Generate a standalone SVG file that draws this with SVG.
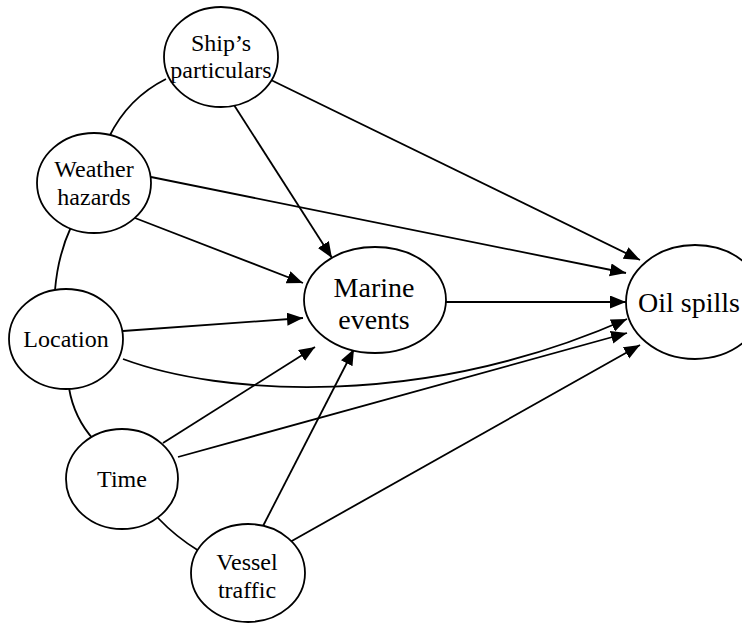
<svg xmlns="http://www.w3.org/2000/svg" width="742" height="623" viewBox="0 0 742 623">
  <style>
    .node { fill: #ffffff; stroke: #000000; stroke-width: 1.8; }
    .edge { fill: none; stroke: #000000; stroke-width: 1.8; }
    .arrow { marker-end: url(#head); }
    text { font-family: 'Liberation Serif', 'Tinos', 'DejaVu Serif', serif; font-size: 24px; fill: #000000; text-anchor: middle; }
    text.big { font-size: 28px; }
  </style>
  <defs>
    <marker id="head" markerUnits="userSpaceOnUse" markerWidth="17" markerHeight="14" refX="16" refY="6.5" orient="auto">
      <path d="M0,0 L16,6.5 L0,13 Z" fill="#000000"/>
    </marker>
  </defs>
  <rect width="742" height="623" fill="#ffffff"/>

  <g id="connectors">
    <!-- undirected links between the outer factors -->
    <path class="edge" d="M166,79 Q128,98 109,137"/>
    <path class="edge" d="M71,227 Q58,255 55,290"/>
    <path class="edge" d="M69,388 Q74,418 94,440"/>
    <path class="edge" d="M158,518 Q176,537 199,551"/>
    <!-- influences on marine events -->
    <path class="edge arrow" d="M234,105 L332,258"/>
    <path class="edge arrow" d="M135,218 L303,283"/>
    <path class="edge arrow" d="M123,331 L303,318"/>
    <path class="edge arrow" d="M163,443 L315,347"/>
    <path class="edge arrow" d="M262,528 L354,349"/>
    <!-- influences on oil spills -->
    <path class="edge arrow" d="M271,80 L640,260"/>
    <path class="edge arrow" d="M151,177 L626,273"/>
    <path class="edge arrow" d="M446,302 L626,302"/>
    <path class="edge arrow" d="M123,359 C220,395 420,410 627,319"/>
    <path class="edge arrow" d="M178,457 L627,333"/>
    <path class="edge arrow" d="M290,542 L640,345"/>
  </g>

  <g id="ships-particulars">
    <ellipse class="node" cx="221" cy="57" rx="57" ry="50"/>
    <text x="221" y="51" font-family="Liberation Serif, serif">Ship’s</text>
    <text x="221" y="78" font-family="Liberation Serif, serif">particulars</text>
  </g>
  <g id="weather-hazards">
    <ellipse class="node" cx="94" cy="183" rx="57" ry="50"/>
    <text x="94" y="177" font-family="Liberation Serif, serif">Weather</text>
    <text x="94" y="205" font-family="Liberation Serif, serif">hazards</text>
  </g>
  <g id="location">
    <ellipse class="node" cx="66" cy="339" rx="57" ry="50"/>
    <text x="66" y="347" font-family="Liberation Serif, serif">Location</text>
  </g>
  <g id="time">
    <ellipse class="node" cx="122" cy="479" rx="56" ry="50"/>
    <text x="122" y="487" font-family="Liberation Serif, serif">Time</text>
  </g>
  <g id="vessel-traffic">
    <ellipse class="node" cx="248" cy="573" rx="57" ry="49"/>
    <text x="247" y="570" font-family="Liberation Serif, serif">Vessel</text>
    <text x="247" y="598" font-family="Liberation Serif, serif">traffic</text>
  </g>
  <g id="marine-events">
    <ellipse class="node" cx="375" cy="300" rx="71" ry="53"/>
    <text class="big" x="374" y="297" font-family="Liberation Serif, serif">Marine</text>
    <text class="big" x="374" y="329" font-family="Liberation Serif, serif">events</text>
  </g>
  <g id="oil-spills">
    <ellipse class="node" cx="695" cy="302" rx="69" ry="57"/>
    <text class="big" x="689" y="312" font-family="Liberation Serif, serif">Oil spills</text>
  </g>
</svg>
